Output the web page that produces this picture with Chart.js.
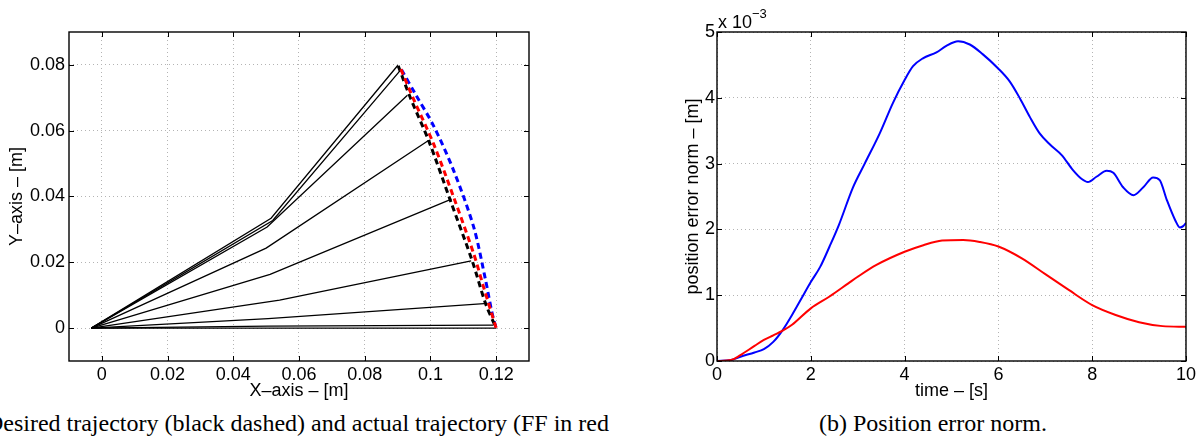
<!DOCTYPE html>
<html>
<head>
<meta charset="utf-8">
<script src="https://cdn.jsdelivr.net/npm/chart.js@4.4.1/dist/chart.umd.min.js"></script>
<style>
  body { margin: 0; background: #fff; width: 1199px; height: 437px; overflow: hidden; position: relative; }
  canvas { position: absolute; top: 0; }
  #trajCanvas { left: 0; }
  #errCanvas { left: 600px; }
  .caption { position: absolute; top: 408px; font-family: "Liberation Serif", "Times New Roman", serif; font-size: 24px; line-height: 30px; white-space: nowrap; color: #000; }
  #capA { right: 590px; text-align: right; }
  #capB { left: 933px; transform: translateX(-50%); }
</style>
</head>
<body>
<canvas id="trajCanvas" width="600" height="400"></canvas>
<canvas id="errCanvas" width="599" height="400"></canvas>
<div class="caption" id="capA">Desired trajectory (black dashed) and actual trajectory (FF in red</div>
<div class="caption" id="capB">(b) Position error norm.</div>
<script>
// --- Data: left plot (arm configurations + trajectories) ---
const armBaseX = -0.0032;
const armBaseY = 0;
const elbowX = [0.0515, 0.0520, 0.0503, 0.0500, 0.0512, 0.0541, 0.0506, 0.0506, 0.0506];
const elbowY = [0.0334, 0.0327, 0.0307, 0.0243, 0.0163, 0.0085, 0.0029, 0.0006, 0.0000];
const tipX   = [0.0901, 0.0909, 0.0930, 0.0994, 0.1064, 0.1124, 0.1174, 0.1192, 0.1200];
const tipY   = [0.0799, 0.0784, 0.0708, 0.0570, 0.0392, 0.0204, 0.0075, 0.0009, 0.0000];

const desiredX = [0.0902, 0.0939, 0.0995, 0.1061, 0.1127, 0.1168, 0.1200];
const desiredY = [0.0797, 0.0700, 0.0569, 0.0387, 0.0205, 0.0074, 0.0000];
const ffX = [0.0910, 0.0949, 0.1010, 0.1071, 0.1132, 0.1162, 0.1200];
const ffY = [0.0787, 0.0695, 0.0559, 0.0397, 0.0225, 0.0124, 0.0000];
const fbX = [0.0912, 0.0955, 0.1010, 0.1071, 0.1132, 0.1168, 0.1188, 0.1200];
const fbY = [0.0785, 0.0710, 0.0614, 0.0478, 0.0306, 0.0145, 0.0044, 0.0000];

const trajXTicks = [0, 0.02, 0.04, 0.06, 0.08, 0.1, 0.12];
const trajXLabels = ['0', '0.02', '0.04', '0.06', '0.08', '0.1', '0.12'];
const trajYTicks = [0, 0.02, 0.04, 0.06, 0.08];
const trajYLabels = ['0', '0.02', '0.04', '0.06', '0.08'];

// --- Data: right plot (position error norm, x 10^-3 m) ---
const fbTime = [0, 0.3, 0.5, 0.8, 1.0, 1.2, 1.4, 1.6, 1.8, 2.0, 2.2, 2.4, 2.6, 2.9, 3.15, 3.47, 3.75, 4.0, 4.18, 4.39, 4.68, 4.89, 5.14, 5.39, 5.67, 5.99, 6.24, 6.46, 6.67, 6.88, 7.1, 7.35, 7.59, 7.77, 7.91, 8.09, 8.31, 8.45, 8.66, 8.88, 9.09, 9.3, 9.44, 9.59, 9.77, 9.87, 9.94, 10];
const fbErr  = [0, 0.015, 0.065, 0.13, 0.18, 0.29, 0.47, 0.70, 0.95, 1.2, 1.43, 1.74, 2.07, 2.64, 3.0, 3.46, 3.92, 4.27, 4.48, 4.6, 4.69, 4.79, 4.86, 4.81, 4.66, 4.45, 4.25, 3.99, 3.71, 3.46, 3.29, 3.13, 2.90, 2.77, 2.72, 2.80, 2.89, 2.86, 2.64, 2.52, 2.64, 2.79, 2.75, 2.45, 2.14, 2.03, 2.05, 2.10];
const ffTime = [0, 0.3, 0.5, 0.8, 1.0, 1.2, 1.4, 1.6, 2.0, 2.4, 2.8, 3.0, 3.4, 4.0, 4.4, 4.8, 5.25, 5.6, 6.0, 6.5, 7.0, 7.5, 8.0, 8.5, 9.0, 9.5, 10];
const ffErr  = [0, 0.015, 0.09, 0.23, 0.32, 0.39, 0.46, 0.55, 0.80, 0.98, 1.18, 1.28, 1.46, 1.66, 1.76, 1.83, 1.84, 1.81, 1.74, 1.56, 1.32, 1.08, 0.85, 0.70, 0.59, 0.53, 0.52];

const errXTicks = [0, 2, 4, 6, 8, 10];
const errXLabels = ['0', '2', '4', '6', '8', '10'];
const errYTicks = [0, 1, 2, 3, 4, 5];
const errYLabels = ['0', '1', '2', '3', '4', '5'];

Chart.defaults.font.family = "'Liberation Sans', Arial, sans-serif";
Chart.defaults.color = '#000';

const tickFont = { size: 18 };
const titleFont = { size: 18, lineHeight: 1 };

const pts = (xs, ys) => xs.map((x, i) => ({ x: x, y: ys[i] }));

function axis(min, max, ticks, labels, pad, title, titlePad, fitSize) {
    const horizontal = fitSize.height !== undefined;
    return {
        type: 'linear',
        min: min,
        max: max,
        afterBuildTicks: s => { s.ticks = ticks.map(v => ({ value: v })); },
        afterFit: s => {
            if (horizontal) s.height = fitSize.height; else s.width = fitSize.width;
        },
        ticks: {
            callback: (v, i) => labels[i],
            font: tickFont,
            padding: pad,
            maxRotation: 0,
            autoSkip: false
        },
        grid: { color: '#b4b4b4', lineWidth: 1, drawTicks: false, borderDash: [1, 3] },
        border: { display: false, dash: [1, 3] },
        title: { display: true, text: title, font: titleFont, padding: titlePad }
    };
}

// box + inward ticks, like the original axes
const framePlugin = {
    id: 'frame',
    afterDatasetsDraw(chart) {
        const { ctx, chartArea: a, scales } = chart;
        ctx.save();
        ctx.strokeStyle = '#000';
        ctx.lineWidth = 1;
        ctx.setLineDash([]);
        ctx.beginPath();
        scales.x.ticks.forEach(t => {
            const px = Math.round(scales.x.getPixelForValue(t.value)) + 0.5;
            ctx.moveTo(px, a.bottom); ctx.lineTo(px, a.bottom - 5);
            ctx.moveTo(px, a.top); ctx.lineTo(px, a.top + 5);
        });
        scales.y.ticks.forEach(t => {
            const py = Math.round(scales.y.getPixelForValue(t.value)) + 0.5;
            ctx.moveTo(a.left, py); ctx.lineTo(a.left + 5, py);
            ctx.moveTo(a.right, py); ctx.lineTo(a.right - 5, py);
        });
        ctx.stroke();
        ctx.lineWidth = 1.4;
        ctx.strokeRect(a.left, a.top, a.right - a.left, a.bottom - a.top);
        ctx.restore();
    }
};

const exponentPlugin = {
    id: 'exponent',
    afterDraw(chart) {
        const { ctx, chartArea: a } = chart;
        ctx.save();
        ctx.fillStyle = '#000';
        ctx.textBaseline = 'alphabetic';
        ctx.font = "18px 'Liberation Sans', Arial, sans-serif";
        const base = 'x 10';
        ctx.fillText(base, a.left + 1, 28);
        const w = ctx.measureText(base).width;
        ctx.font = "13px 'Liberation Sans', Arial, sans-serif";
        ctx.fillText('\u22123', a.left + 1 + w, 18);
        ctx.restore();
    }
};

// --- Left chart ---
const armSets = elbowX.map((ex, i) => ({
    data: [{ x: armBaseX, y: armBaseY }, { x: ex, y: elbowY[i] }, { x: tipX[i], y: tipY[i] }],
    showLine: true,
    borderColor: '#000',
    borderWidth: 1.3,
    pointRadius: 0,
    order: 4
}));

const dashed = (xs, ys, color, order) => ({
    data: pts(xs, ys),
    showLine: true,
    borderColor: color,
    borderWidth: 3,
    borderDash: [6, 4],
    tension: 0.3,
    pointRadius: 0,
    order: order
});

new Chart(document.getElementById('trajCanvas'), {
    type: 'scatter',
    data: {
        datasets: [
            dashed(ffX, ffY, '#ff0000', 0),
            dashed(desiredX, desiredY, '#000000', 1),
            dashed(fbX, fbY, '#0000ff', 2),
            ...armSets
        ]
    },
    options: {
        responsive: false,
        animation: false,
        layout: { padding: { top: 32, right: 71, left: 0, bottom: 0 } },
        plugins: { legend: { display: false }, tooltip: { enabled: false } },
        scales: {
            x: axis(-0.01, 0.13, trajXTicks, trajXLabels, 3, 'X\u2013axis \u2013 [m]', { top: 0, bottom: 0 }, { height: 39 }),
            y: axis(-0.01, 0.09, trajYTicks, trajYLabels, 4, 'Y\u2013axis \u2013 [m]', { top: 8, bottom: 0 }, { width: 69 })
        }
    },
    plugins: [framePlugin]
});

// --- Right chart ---
const errLine = (xs, ys, color) => ({
    data: pts(xs, ys),
    showLine: true,
    borderColor: color,
    borderWidth: 2,
    cubicInterpolationMode: 'monotone',
    pointRadius: 0
});

new Chart(document.getElementById('errCanvas'), {
    type: 'scatter',
    data: {
        datasets: [
            errLine(ffTime, ffErr, '#ff0000'),
            errLine(fbTime, fbErr, '#0000ff')
        ]
    },
    options: {
        responsive: false,
        animation: false,
        layout: { padding: { top: 32, right: 13, left: 0, bottom: 0 } },
        plugins: { legend: { display: false }, tooltip: { enabled: false } },
        scales: {
            x: axis(0, 10, errXTicks, errXLabels, 3, 'time \u2013 [s]', { top: 0, bottom: 0 }, { height: 39 }),
            y: axis(0, 5, errYTicks, errYLabels, 2, 'position error norm \u2013 [m]', { top: 84, bottom: 0 }, { width: 117 })
        }
    },
    plugins: [framePlugin, exponentPlugin]
});
</script>
</body>
</html>
